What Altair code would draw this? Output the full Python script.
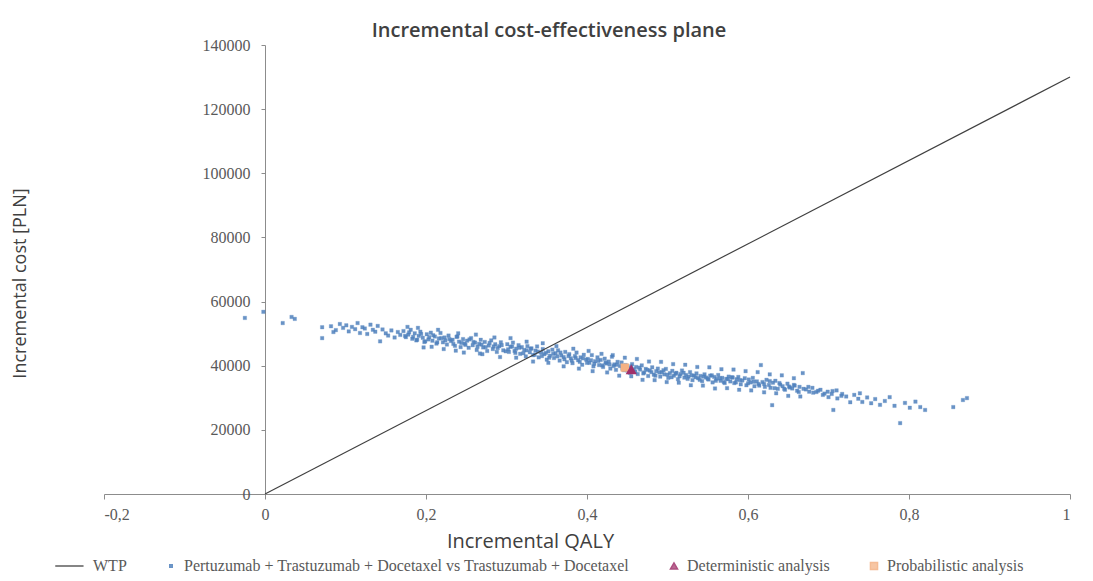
import altair as alt
import pandas as pd

# ---------------- data ----------------
S_WTP = "WTP"
S_PTD = "Pertuzumab + Trastuzumab + Docetaxel vs Trastuzumab + Docetaxel"
S_DET = "Deterministic analysis"
S_PRO = "Probabilistic analysis"
series_order = [S_WTP, S_PTD, S_DET, S_PRO]
series_colors = ["#404040", "#4F81BD", "#A0306A", "#F4B183"]
series_shapes = ["M-7,0L1,0", "M-0.35,-0.35h0.7v0.7h-0.7z", "triangle-up", "square"]

x_ticks = [-0.2, 0, 0.2, 0.4, 0.6, 0.8, 1]
y_ticks = [0, 20000, 40000, 60000, 80000, 100000, 120000, 140000]

wtp_qaly = [0, 1]
wtp_cost = [0, 130000]

det_qaly = [0.455]
det_cost = [38700]
prob_qaly = [0.447]
prob_cost = [39400]

qaly_a = [-0.025, -0.002, 0.022, 0.037, 0.033, 0.071, 0.071, 0.085]
cost_a = [54900, 56800, 53300, 54600, 55200, 52000, 48600, 50500]

qaly_b = [0.082, 0.088, 0.093, 0.097, 0.101, 0.104, 0.108, 0.112, 0.115, 0.118,
          0.121, 0.124, 0.127, 0.131, 0.134, 0.137, 0.140, 0.143, 0.146, 0.150,
          0.153, 0.157, 0.161, 0.165, 0.168]
cost_b = [52300, 51100, 53000, 51800, 52600, 50700, 52100, 51400, 53300, 50200,
          52000, 51600, 49900, 52800, 51200, 50600, 52400, 47600, 51300, 50100,
          49400, 51000, 48800, 50500, 49600]

qaly_c = [0.172, 0.175, 0.178, 0.181, 0.183, 0.186, 0.188, 0.191, 0.193, 0.196,
          0.198, 0.201, 0.203, 0.206, 0.208, 0.211, 0.213, 0.216, 0.218, 0.221,
          0.223, 0.226, 0.228, 0.231, 0.233, 0.236, 0.238, 0.241, 0.243, 0.246,
          0.248, 0.251, 0.253, 0.256, 0.258, 0.261, 0.263, 0.266, 0.268, 0.271,
          0.273, 0.276, 0.278, 0.281, 0.283, 0.286, 0.288, 0.291, 0.293, 0.296]
cost_c = [50800, 48900, 49700, 51200, 48400, 50100, 47900, 49300, 50600, 48700,
          47400, 49800, 48200, 50300, 47800, 49100, 46900, 48500, 50200, 47300,
          48800, 46600, 49400, 47700, 48100, 46200, 49000, 47500, 45800, 48300,
          46900, 47800, 45600, 48600, 46400, 47200, 44900, 46800, 48100, 45700,
          47400, 44600, 46300, 47900, 45200, 46700, 44300, 46100, 47300, 44800]

qaly_c2 = [0.174, 0.179, 0.184, 0.189, 0.194, 0.199, 0.204, 0.209, 0.214, 0.219,
           0.224, 0.229, 0.234, 0.239, 0.244, 0.249, 0.254, 0.259, 0.264, 0.269,
           0.274, 0.279, 0.284, 0.289, 0.294, 0.299, 0.177, 0.207, 0.237, 0.267]
cost_c2 = [49300, 50400, 49000, 48100, 49900, 47600, 48900, 49500, 47300, 48600,
           47900, 48300, 46800, 49100, 47100, 46500, 48200, 47400, 45900, 46600,
           45800, 47100, 46000, 45500, 46400, 44500, 52100, 45900, 44700, 43800]

qaly_d = [0.301, 0.303, 0.305, 0.308, 0.310, 0.312, 0.315, 0.317, 0.319, 0.322,
          0.324, 0.326, 0.329, 0.331, 0.333, 0.336, 0.338, 0.340, 0.343, 0.345,
          0.347, 0.350, 0.352, 0.354, 0.357, 0.359, 0.361, 0.364, 0.366, 0.368,
          0.371, 0.373, 0.375, 0.378, 0.380, 0.382, 0.385, 0.387, 0.389, 0.392,
          0.394, 0.396, 0.399, 0.401, 0.403, 0.406, 0.408, 0.410, 0.413, 0.415,
          0.417, 0.420, 0.422, 0.424, 0.427, 0.429, 0.431, 0.434, 0.436, 0.438]
cost_d = [46700, 44300, 45900, 47200, 44600, 45300, 46400, 43700, 45800, 44900,
          42900, 46100, 44200, 45400, 43300, 44700, 46000, 42600, 44100, 45200,
          43600, 41900, 44500, 43100, 45000, 42400, 43900, 44800, 41600, 43200,
          42700, 44300, 41100, 43600, 42300, 40800, 43000, 44100, 41700, 42600,
          40300, 43400, 41900, 42100, 40900, 43300, 39800, 41400, 42600, 40200,
          41800, 39600, 42200, 40700, 41300, 39100, 42800, 40400, 38700, 41200]

qaly_d2 = [0.302, 0.307, 0.311, 0.316, 0.321, 0.325, 0.330, 0.335, 0.339, 0.344,
           0.349, 0.353, 0.358, 0.363, 0.367, 0.372, 0.377, 0.381, 0.386, 0.391,
           0.395, 0.400, 0.405, 0.409, 0.414, 0.419, 0.423, 0.428, 0.433, 0.437]
cost_d2 = [45100, 46000, 44000, 45600, 43900, 44800, 45300, 43400, 44400, 43000,
           44000, 42500, 43700, 42900, 44100, 42000, 43000, 41600, 42400, 41200,
           42300, 40900, 41700, 40600, 41500, 40100, 41000, 40400, 39900, 40300]

qaly_e = [0.441, 0.443, 0.446, 0.448, 0.451, 0.453, 0.456, 0.458, 0.461, 0.463,
          0.466, 0.468, 0.471, 0.473, 0.476, 0.478, 0.481, 0.483, 0.486, 0.488,
          0.491, 0.493, 0.496, 0.498, 0.501, 0.503, 0.506, 0.508, 0.511, 0.513,
          0.516, 0.518, 0.521, 0.523, 0.526, 0.528, 0.531, 0.533, 0.536, 0.538,
          0.541, 0.543, 0.546, 0.548, 0.551, 0.553, 0.556, 0.558, 0.561, 0.563,
          0.566, 0.568, 0.571, 0.573, 0.576]
cost_e = [39900, 41000, 38600, 40200, 39300, 37800, 40500, 38900, 39600, 37400,
          38800, 40100, 37900, 39000, 36800, 38500, 39500, 37200, 38300, 39100,
          36600, 38000, 37300, 39000, 36200, 37700, 38400, 36900, 37800, 35800,
          37400, 38500, 36300, 37100, 36600, 38000, 35500, 36900, 37600, 36100,
          36800, 35200, 37300, 36300, 35700, 36900, 34800, 36500, 35900, 37100,
          35300, 36200, 34600, 35900, 36600]

qaly_e2 = [0.444, 0.450, 0.455, 0.460, 0.465, 0.470, 0.475, 0.480, 0.485, 0.490,
           0.495, 0.500, 0.505, 0.510, 0.515, 0.520, 0.525, 0.530, 0.535, 0.540,
           0.545, 0.550, 0.555, 0.560, 0.565, 0.570, 0.575, 0.580, 0.585, 0.590]
cost_e2 = [39100, 38500, 39800, 38200, 39400, 37600, 38700, 38000, 36900, 37900,
           38600, 37200, 36400, 37500, 36700, 37800, 35900, 37000, 36400, 35600,
           36600, 35900, 37000, 35300, 36100, 34900, 35800, 36400, 34800, 35500]

qaly_f = [0.578, 0.581, 0.583, 0.586, 0.588, 0.591, 0.593, 0.596, 0.598, 0.601,
          0.603, 0.606, 0.608, 0.611, 0.613, 0.616, 0.618, 0.621, 0.623, 0.626,
          0.628, 0.631, 0.634, 0.637, 0.640, 0.643, 0.646, 0.649, 0.652, 0.655,
          0.658, 0.661, 0.664, 0.668, 0.672, 0.676, 0.680, 0.685, 0.690, 0.695]
cost_f = [35100, 36300, 34600, 35800, 36500, 34200, 35400, 36100, 33900, 35700,
          34800, 36200, 33600, 35100, 34300, 40200, 34900, 33400, 35600, 34000,
          33100, 34700, 35300, 32800, 34100, 33600, 32500, 34400, 33200, 32900,
          33800, 32200, 33400, 37700, 32600, 31900, 33100, 31800, 32500, 31300]

qaly_f2 = [0.600, 0.607, 0.614, 0.620, 0.627, 0.633, 0.639, 0.645, 0.651, 0.657,
           0.663, 0.669, 0.675, 0.681, 0.687, 0.693, 0.699, 0.704, 0.710, 0.716]
cost_f2 = [34500, 35000, 33800, 34300, 35200, 33000, 34600, 32800, 33500, 34000,
           31800, 32800, 33400, 31600, 32200, 30900, 31900, 31200, 32300, 30600]

qaly_g = [0.700, 0.705, 0.711, 0.717, 0.722, 0.727, 0.732, 0.737, 0.742, 0.748,
          0.753, 0.758, 0.764, 0.770, 0.776, 0.782, 0.789, 0.795, 0.801, 0.808,
          0.814, 0.820, 0.630, 0.706, 0.739, 0.855, 0.867, 0.872]
cost_g = [30200, 32100, 29800, 31200, 30400, 28600, 30900, 29700, 28700, 30100,
          28300, 29600, 27800, 29000, 30200, 27500, 22100, 28400, 26900, 28800,
          27100, 26200, 27700, 26200, 31400, 27100, 29300, 29900]

# upper edge of the cloud
qaly_h = [0.190, 0.215, 0.240, 0.262, 0.285, 0.305, 0.325, 0.345, 0.362, 0.383,
          0.402, 0.418, 0.432, 0.447, 0.462, 0.477, 0.492, 0.507, 0.522, 0.537,
          0.552, 0.567, 0.582, 0.597, 0.612, 0.627, 0.642, 0.657]
cost_h = [51800, 51200, 50100, 49700, 48800, 48600, 47500, 47000, 46100, 45300,
          44600, 43700, 43300, 42500, 42100, 41300, 41200, 40500, 40300, 39600,
          39500, 38900, 38800, 38300, 38000, 37300, 37000, 36100]

# lower edge of the cloud
qaly_i = [0.197, 0.222, 0.247, 0.270, 0.292, 0.312, 0.333, 0.352, 0.371, 0.390,
          0.407, 0.425, 0.440, 0.455, 0.469, 0.484, 0.499, 0.514, 0.529, 0.544,
          0.559, 0.574, 0.589, 0.604, 0.620, 0.635, 0.650, 0.665]
cost_i = [45700, 45200, 44100, 43600, 42700, 42500, 41300, 40900, 39800, 39100,
          38300, 37900, 36900, 36700, 35600, 35500, 34900, 34700, 33900, 33800,
          32900, 33000, 32500, 32300, 31700, 31400, 30600, 30400]

# ---------------- frames ----------------
sim_q, sim_c = [], []
for q, c in [(qaly_a, cost_a), (qaly_b, cost_b), (qaly_c, cost_c), (qaly_c2, cost_c2),
             (qaly_d, cost_d), (qaly_d2, cost_d2), (qaly_e, cost_e), (qaly_e2, cost_e2),
             (qaly_f, cost_f), (qaly_f2, cost_f2), (qaly_g, cost_g),
             (qaly_h, cost_h), (qaly_i, cost_i)]:
    n = min(len(q), len(c))
    sim_q += q[:n]
    sim_c += c[:n]

df_sim = pd.DataFrame({"qaly": sim_q, "cost": sim_c, "series": S_PTD})
df_wtp = pd.DataFrame({"qaly": wtp_qaly, "cost": wtp_cost, "series": S_WTP})
df_det = pd.DataFrame({"qaly": det_qaly, "cost": det_cost, "series": S_DET})
df_pro = pd.DataFrame({"qaly": prob_qaly, "cost": prob_cost, "series": S_PRO})

AX = "#8c8c8c"
x_enc = alt.X(
    "qaly:Q",
    title="Incremental QALY",
    scale=alt.Scale(domain=[-0.2, 1], nice=False, zero=False),
    axis=alt.Axis(
        values=x_ticks, grid=False,
        labelExpr="replace(replace(format(datum.value, '.1~f'), '.', ','), '\u2212', '-')",
        domainColor=AX, tickColor=AX, tickSize=5, labelPadding=7,
        labelFont="Liberation Serif", labelFontSize=16, labelColor="#595959",
        titleFont="Open Sans", titleFontSize=20, titleFontWeight="normal", titleColor="#404040",
        titleX=426, titleY=47, titleAlign="center", titleBaseline="middle",
    ),
)
y_enc = alt.Y(
    "cost:Q",
    title="Incremental cost [PLN]",
    scale=alt.Scale(domain=[0, 140000], nice=False),
    axis=alt.Axis(
        values=y_ticks, format="d", grid=False, offset=-161,
        domainColor=AX, tickColor=AX, tickSize=4, labelPadding=11,
        labelFont="Liberation Serif", labelFontSize=16, labelColor="#595959",
        titleFont="Open Sans", titleFontSize=18, titleFontWeight="normal", titleColor="#404040",
        titleX=-245, titleY=238, titleAngle=-90, titleAlign="center", titleBaseline="middle",
    ),
)

leg = alt.Legend(
    title=None, orient="none", legendX=-32, legendY=513, direction="horizontal",
    labelFont="Liberation Serif", labelFontSize=16, labelColor="#595959", labelLimit=700,
    columnPadding=36, labelOffset=5, symbolSize=50, symbolStrokeWidth=1.5,
)


def sc(rng):
    return alt.Scale(domain=series_order, range=rng)


def point_enc():
    return dict(
        x=x_enc, y=y_enc,
        fill=alt.Fill("series:N", scale=sc(series_colors), legend=leg),
        stroke=alt.Stroke("series:N", scale=sc(series_colors), legend=leg),
        shape=alt.Shape("series:N", scale=sc(series_shapes), legend=leg),
    )


sim_layer = alt.Chart(df_sim).mark_point(filled=True, size=100, opacity=0.85, strokeWidth=0.3).encode(**point_enc())
wtp_layer = alt.Chart(df_wtp).mark_line(strokeWidth=1.2).encode(
    x=x_enc, y=y_enc,
    stroke=alt.Stroke("series:N", scale=sc(series_colors), legend=leg),
)
pro_layer = alt.Chart(df_pro).mark_point(filled=True, size=40, opacity=1).encode(**point_enc())
det_layer = alt.Chart(df_det).mark_point(filled=True, size=60, opacity=1).encode(**point_enc())

chart = alt.layer(sim_layer, wtp_layer, pro_layer, det_layer).properties(
    width=966, height=449,
    autosize=alt.AutoSizeParams(type="none"),
    padding={"left": 96, "top": 37, "right": 15, "bottom": 90},
    title=alt.Title(
        "Incremental cost-effectiveness plane", font="Open Sans", fontSize=20, fontWeight=600,
        color="#404040", anchor="middle", dx=-38, dy=12, offset=8, frame="group",
    ),
).configure_view(stroke=None)

chart.save("out.html", embed_options={"renderer": "svg", "actions": False})
